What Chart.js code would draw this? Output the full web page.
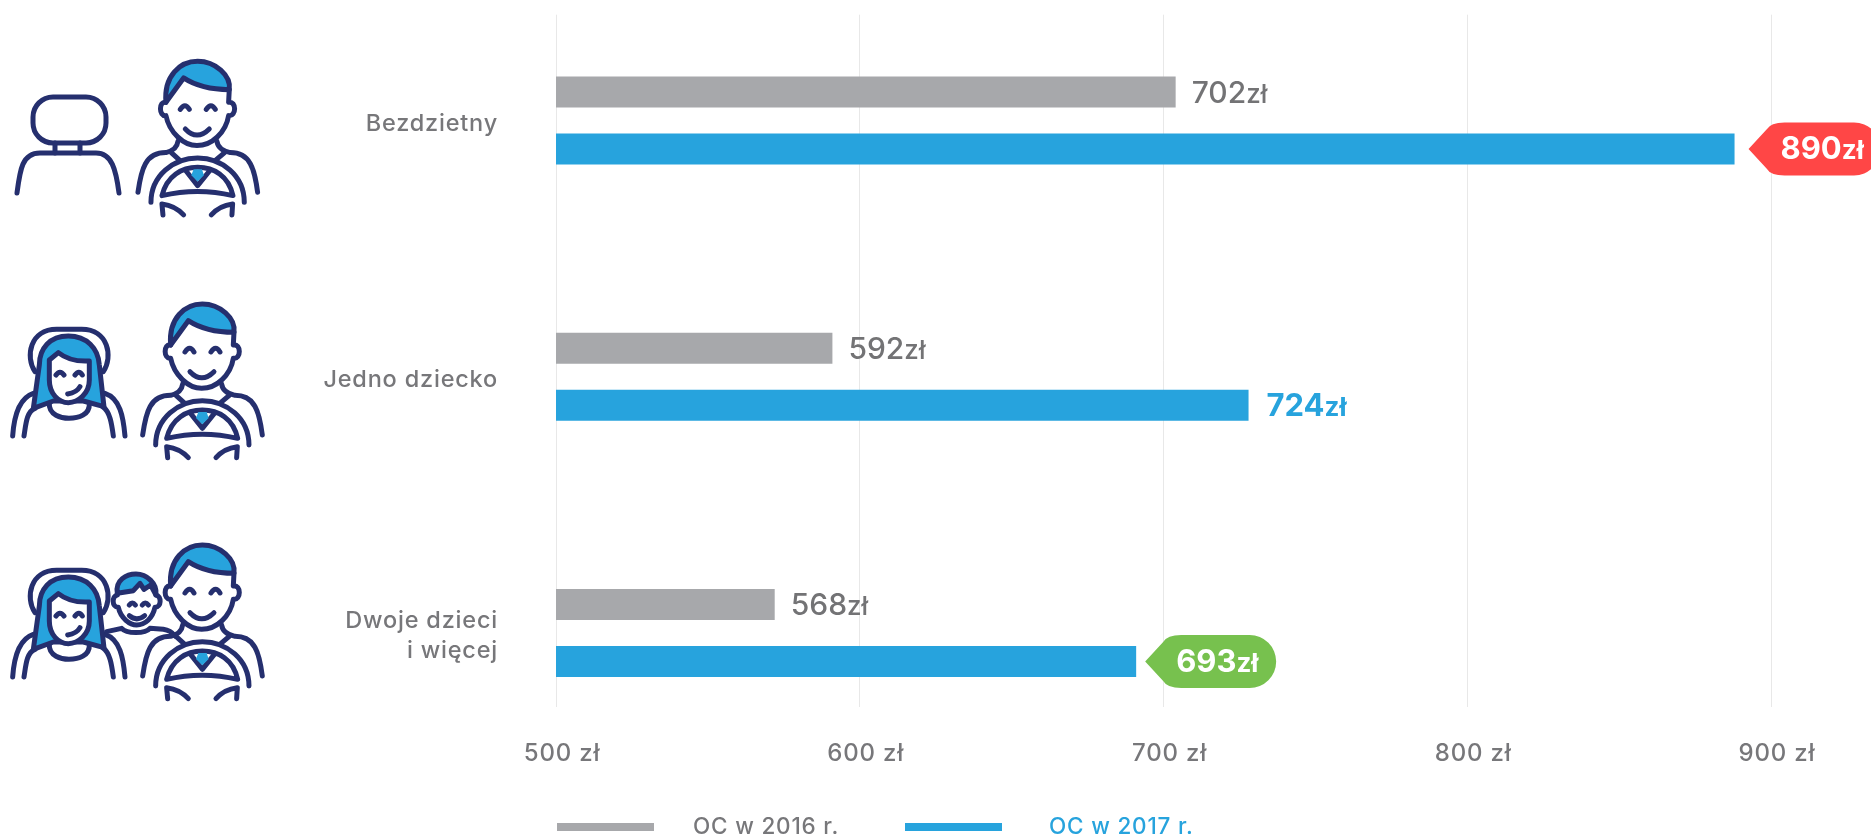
<!DOCTYPE html>
<html lang="pl">
<head>
<meta charset="utf-8">
<title>OC 2016 / 2017</title>
<script src="https://cdn.jsdelivr.net/npm/chart.js@4"></script>
<style>
    html, body { margin: 0; padding: 0; background: #fff; }
    #wrap { position: relative; width: 1871px; height: 836px; overflow: hidden; }
    #icons { position: absolute; left: 0; top: 0; }
    #icons .ln { fill: none; stroke: #252f6e; stroke-width: 15; stroke-linecap: round; stroke-linejoin: round; }
    #icons .hair { fill: #27a3dd; stroke: #252f6e; stroke-width: 15; stroke-linejoin: round; }
    #icons .skin { fill: #fff; stroke: #252f6e; stroke-width: 15; stroke-linejoin: round; }
    #icons .gem { fill: #27a3dd; }
</style>
</head>
<body>
<div id="wrap">
    <canvas id="chart" width="1871" height="836"></canvas>
    <svg id="icons" width="290" height="720" viewBox="0 0 290 720">
        <defs>
            <g id="driver">
                <path class="hair" d="M512,165 C505,85 555,42 607,42 C660,42 708,85 702,127 C650,127 600,115 565,92 Z"/>
                <path class="ln" d="M512,165 C490,160 490,208 512,205 C522,255 565,295 605,295 C650,295 692,255 700,205 C724,208 724,160 700,165 L702,127"/>
                <path class="ln" d="M555,186 Q569,164 582,186 M633,186 Q647,164 660,186 M570,245 Q605,282 642,245"/>
                <path class="ln" d="M548,282 Q545,308 512,316 C450,316 438,365 428,435 M665,282 Q668,308 705,316 C765,316 778,365 787,435"/>
                <path class="ln" d="M528,316 L552,338 M688,316 L662,338"/>
                <path class="ln" d="M467,465 C467,385 535,332 607,332 C680,332 747,385 747,465"/>
                <path class="ln" d="M500,445 C515,385 560,360 607,360 C655,360 700,385 713,445 Q607,420 500,445 Z"/>
                <path class="ln" d="M570,368 L607,415 L645,368"/>
                <path class="gem" d="M595,366 L620,366 L626,384 L607,403 L588,384 Z"/>
                <path class="ln" d="M503,503 L500,470 Q540,475 565,503 M710,503 L712,470 Q672,475 648,503"/>
            </g>
            <g id="woman">
                <path class="ln" d="M105,245 C75,200 90,118 170,118 L245,118 C325,118 340,200 310,245"/>
                <path class="ln" d="M38,438 C42,380 55,325 100,310 M375,438 C370,380 360,325 315,310"/>
                <path class="ln" d="M72,438 C78,400 80,365 105,355 M340,438 C335,400 330,365 308,350"/>
                <path class="hair" d="M205,138 C150,138 118,175 118,225 L100,355 L160,333 L250,333 L312,350 L298,225 C295,175 260,138 205,138 Z"/>
                <path class="ln" d="M148,340 C145,375 185,385 207,385 C235,385 270,375 268,340"/>
                <path class="skin" d="M148,210 L175,188 C200,208 235,215 268,213 L268,270 C268,310 235,338 205,338 C175,338 148,310 148,270 Z"/>
                <path class="ln" d="M168,255 Q180,238 192,255 M225,255 Q237,238 247,255 M203,312 Q230,308 240,290"/>
            </g>
            <g id="child">
                <path class="hair" d="M352,190 C345,150 380,132 408,132 C440,132 472,160 468,195 L452,165 L432,178 L420,160 L400,182 Z"/>
                <path class="ln" d="M352,195 C335,198 335,232 355,232 C362,265 390,285 410,285 C435,285 458,265 465,232 C485,232 485,198 468,195"/>
                <path class="ln" d="M388,225 Q397,213 406,225 M427,225 Q436,213 445,225 M388,257 Q410,276 434,257"/>
                <path class="ln" d="M320,305 L365,295 C380,312 435,312 450,295 L490,298 C505,300 515,305 525,318"/>
            </g>
        </defs>

        <!-- Bezdzietny -->
        <g fill="none" stroke="#252f6e" stroke-width="5" stroke-linecap="round" stroke-linejoin="round">
            <rect x="33" y="97" width="73" height="46" rx="20"/>
            <path d="M55,143 V153 M80,143 V153"/>
            <path d="M17,193 C20,170 22,153 40,153 L96,153 C112,153 116,170 119,193"/>
        </g>
        <use href="#driver" transform="translate(-4.7,47.3) scale(.3333)"/>

        <!-- Jedno dziecko -->
        <use href="#woman" transform="translate(0,290) scale(.3333)"/>
        <use href="#driver" transform="translate(0,290) scale(.3333)"/>

        <!-- Dwoje dzieci i wiecej -->
        <use href="#woman" transform="translate(0,531) scale(.3333)"/>
        <use href="#child" transform="translate(0,530) scale(.3333)"/>
        <use href="#driver" transform="translate(0,531) scale(.3333)"/>
    </svg>
</div>

<script>
const categories = ['Bezdzietny', 'Jedno dziecko', ['Dwoje dzieci', 'i więcej']];
const seriesNames = ['OC w 2016 r.', 'OC w 2017 r.'];

// bar ends as read against the gridlines - the graphic does not draw them
// exactly to the printed figures, so those are kept apart below
const bars2016 = [704, 591, 572];
const bars2017 = [888, 728, 691];
const printed2016 = ['702', '592', '568'];
const printed2017 = ['890', '724', '693'];
const unit = 'zł';

const GRAY = '#a7a8ab';
const BLUE = '#27a3dd';
const TEXT = '#77777a';
const FONT = 'Inter, "Noto Sans", sans-serif';

// which 2017 figures sit in a coloured tag
const tagColors = { 0: '#ff4646', 2: '#77c14e' };

function drawAmount(ctx, x, y, number, color, weight, size) {
    ctx.fillStyle = color;
    ctx.textAlign = 'left';
    ctx.textBaseline = 'alphabetic';
    ctx.letterSpacing = '0px';
    ctx.font = weight + ' ' + size + 'px ' + FONT;
    ctx.fillText(number, x, y);
    const w = ctx.measureText(number).width;
    ctx.font = weight + ' 26px ' + FONT;
    ctx.fillText(unit, x + w, y);
}

function drawTag(ctx, tipX, midY, rightX, color) {
    const h = 26.5;
    const bodyX = tipX + 22;
    ctx.fillStyle = color;
    ctx.beginPath();
    ctx.moveTo(tipX, midY);
    ctx.lineTo(bodyX - 4, midY - h + 7);
    ctx.quadraticCurveTo(bodyX, midY - h, bodyX + 14, midY - h);
    ctx.lineTo(rightX - h, midY - h);
    ctx.arc(rightX - h, midY, h, -Math.PI / 2, Math.PI / 2);
    ctx.lineTo(bodyX + 14, midY + h);
    ctx.quadraticCurveTo(bodyX, midY + h, bodyX - 4, midY + h - 7);
    ctx.closePath();
    ctx.fill();
}

// the reference face is wider than Inter, opened up a little for the axis text
const textSpacing = {
    id: 'textSpacing',
    beforeDraw(chart) { chart.ctx.letterSpacing = '0.8px'; }
};

const valueLabels = {
    id: 'valueLabels',
    afterDatasetsDraw(chart) {
        const ctx = chart.ctx;
        ctx.save();

        chart.getDatasetMeta(0).data.forEach((bar, i) => {
            drawAmount(ctx, bar.x + 16, bar.y + 10.5, printed2016[i], '#737375', '500', 30);
        });

        chart.getDatasetMeta(1).data.forEach((bar, i) => {
            const tag = tagColors[i];
            if (tag) {
                const tipX = bar.x + (i === 0 ? 14 : 9);
                const textX = tipX + (i === 0 ? 32 : 31);
                drawTag(ctx, tipX, bar.y, textX + 100, tag);
                drawAmount(ctx, textX, bar.y + 10.5, printed2017[i], '#fff', '700', 31);
            } else {
                drawAmount(ctx, bar.x + 18, bar.y + 10.5, printed2017[i], BLUE, '700', 31);
            }
        });

        ctx.restore();
        ctx.letterSpacing = '0.8px';
    }
};

const legendRow = {
    id: 'legendRow',
    afterDraw(chart) {
        const ctx = chart.ctx;
        const slots = [{ box: 557, text: 693 }, { box: 905, text: 1049 }];
        ctx.save();
        ctx.letterSpacing = '0.8px';
        ctx.font = '500 22.5px ' + FONT;
        ctx.textAlign = 'left';
        ctx.textBaseline = 'middle';
        chart.data.datasets.forEach((ds, i) => {
            ctx.fillStyle = ds.backgroundColor;
            ctx.fillRect(slots[i].box, 823, 97, 8);
            ctx.fillStyle = i === 0 ? TEXT : BLUE;
            ctx.fillText(ds.label, slots[i].text, 827);
        });
        ctx.restore();
    }
};

new Chart(document.getElementById('chart').getContext('2d'), {
    type: 'bar',
    data: {
        datasets: [
            { label: seriesNames[0], data: bars2016.map((v, i) => ({ x: v, y: i })), backgroundColor: GRAY },
            { label: seriesNames[1], data: bars2017.map((v, i) => ({ x: v, y: i })), backgroundColor: BLUE }
        ]
    },
    options: {
        indexAxis: 'y',
        responsive: false,
        animation: false,
        devicePixelRatio: 1,
        categoryPercentage: 0.4444,
        barPercentage: 0.544,
        layout: { padding: { top: 14, right: 100, left: 0, bottom: 0 } },
        plugins: { legend: { display: false }, tooltip: { enabled: false } },
        scales: {
            x: {
                type: 'linear',
                min: 500,
                max: 900,
                grid: { color: '#e8e8e8', drawTicks: false },
                border: { display: false },
                afterFit: scale => { scale.height = 129; },
                ticks: {
                    stepSize: 100,
                    padding: 32,
                    labelOffset: 6,
                    maxRotation: 0,
                    color: TEXT,
                    font: { family: FONT, size: 24, weight: '500' },
                    callback: v => v + ' ' + unit
                }
            },
            y: {
                // linear so the groups can keep their spacing inside a shorter grid
                type: 'linear',
                bounds: 'data',
                offset: false,
                reverse: true,
                min: -0.413,
                max: 2.2885,
                // tickLength instead of ticks.padding: padding would also push the plot top down
                grid: { display: false, drawTicks: true, tickLength: 58 },
                border: { display: false },
                afterFit: scale => { scale.width = 556; },
                afterBuildTicks: scale => {
                    scale.ticks = [2, 1, 0].map(value => ({ value }));
                },
                ticks: {
                    autoSkip: false,
                    padding: 0,
                    labelOffset: 3,
                    color: TEXT,
                    font: { family: FONT, size: 23.5, weight: '500', lineHeight: 1.25 },
                    callback: v => categories[v]
                }
            }
        }
    },
    plugins: [textSpacing, valueLabels, legendRow]
});
</script>
</body>
</html>
